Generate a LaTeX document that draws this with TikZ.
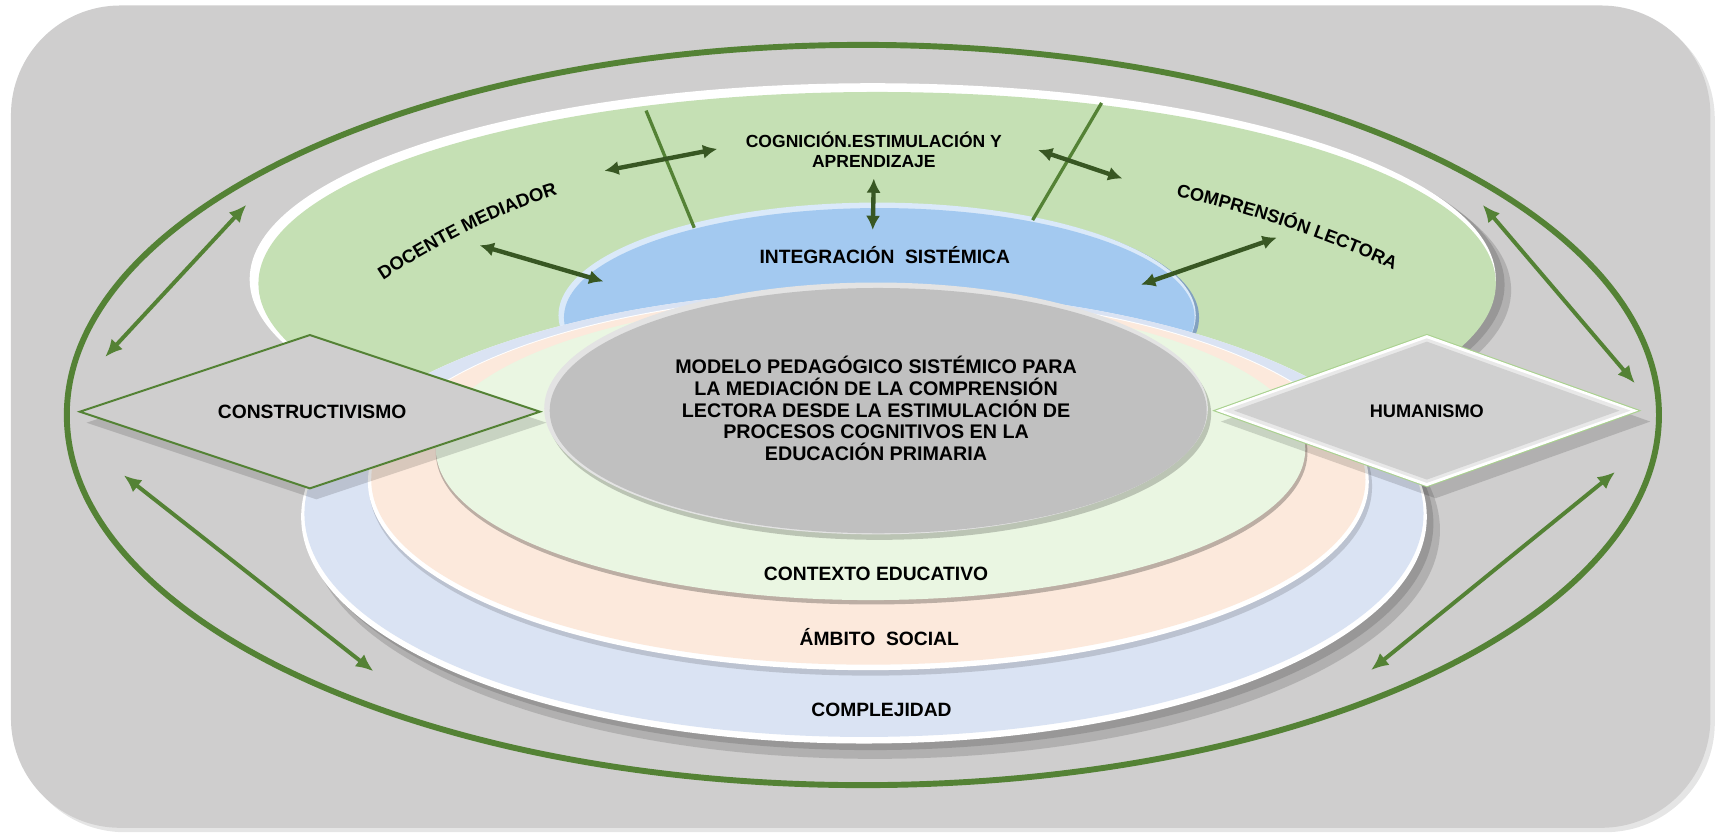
\documentclass[tikz,border=0pt]{standalone}
\usepackage{fontspec}
\setmainfont{Liberation Sans}
\usetikzlibrary{arrows.meta,decorations.text}
\definecolor{bgpanel}{RGB}{207,206,206}
\definecolor{ringgreen}{RGB}{84,130,53}
\definecolor{darkgreen}{RGB}{56,87,35}
\definecolor{leafgreen}{RGB}{197,224,180}
\definecolor{skyblue}{RGB}{163,201,240}
\definecolor{lavender}{RGB}{218,227,243}
\definecolor{peach}{RGB}{252,233,220}
\definecolor{mint}{RGB}{234,246,226}
\definecolor{coregray}{RGB}{192,192,192}
\definecolor{humgray}{RGB}{208,208,208}
\definecolor{lightedge}{RGB}{169,209,142}
\begin{document}
\begin{tikzpicture}[x=0.5pt,y=-0.5pt,
  lbl/.style={font=\bfseries\fontsize{8.8}{10}\selectfont, text=black, inner sep=0pt, align=center},
  outerarrow/.style={ringgreen, line width=1.8pt, {Latex[length=8pt,width=7pt]}-{Latex[length=8pt,width=7pt]}},
  innerarrow/.style={darkgreen, line width=2pt, {Latex[length=6.5pt,width=6.5pt]}-{Latex[length=6.5pt,width=6.5pt]}},
  divider/.style={ringgreen, line width=1.5pt},
  softshadow/.style={fill=black, opacity=0.14}
]
\useasboundingbox (0,0) rectangle (1568,763);
% panel
\fill[black, opacity=0.10, rounded corners=50pt] (14,9) rectangle (1566,760);
\fill[bgpanel, rounded corners=50pt] (10,5) rectangle (1562,756);
% outer ring
\draw[ringgreen, line width=2.7pt] (788,379) ellipse (727 and 338);
% green ellipse
\fill[softshadow] (811,265) ellipse (569 and 179);
\fill[softshadow] (805,260) ellipse (569 and 179);
\fill[white] (797,255) ellipse (569 and 179);
\fill[leafgreen] (801,259) ellipse (565 and 175);
% blue ellipse
\fill[skyblue!80!black] (803,290) ellipse (292 and 104);
\fill[white!60!skyblue] (801,288) ellipse (291 and 103);
\fill[skyblue] (803,290) ellipse (288 and 100);
% lavender
\fill[softshadow] (799,484) ellipse (516 and 209);
\fill[softshadow] (795,478) ellipse (514 and 207);
\fill[white] (789,472) ellipse (514 and 207);
\fill[lavender] (789,469) ellipse (511 and 204);
% peach
\fill[softshadow] (795,444) ellipse (458 and 173);
\fill[white] (793,440) ellipse (457 and 172);
\fill[peach] (793,438) ellipse (454 and 169);
% mint
\fill[black, opacity=0.25] (796,413) ellipse (398 and 139);
\fill[mint] (795,410) ellipse (397 and 138);
% core
\fill[black, opacity=0.2] (803,378) ellipse (303 and 115);
\fill[white!55!coregray] (800,373) ellipse (303 and 115);
\fill[coregray] (802,375) ellipse (300 and 112);
% constructivismo diamond
\fill[softshadow] (79,386) -- (289,316) -- (499,386) -- (289,456) -- cycle;
\filldraw[fill=bgpanel, draw=ringgreen, line width=0.9pt] (73,376) -- (283,306) -- (493,376) -- (283,446) -- cycle;
% humanismo diamond
\fill[softshadow] (1115,385) -- (1311,315) -- (1507,385) -- (1311,455) -- cycle;
\fill[lightedge] (1107,375) -- (1303,305) -- (1499,375) -- (1303,445) -- cycle;
\fill[white] (1110,375) -- (1303,306) -- (1496,375) -- (1303,444) -- cycle;
\fill[white!50!humgray] (1117,375) -- (1303,309) -- (1489,375) -- (1303,441) -- cycle;
\fill[humgray] (1127,375) -- (1303,312) -- (1479,375) -- (1303,438) -- cycle;
% divider lines
\coordinate (l1a) at (590,101); \coordinate (l1b) at (634,208);
\coordinate (l2a) at (1006,94); \coordinate (l2b) at (943,201);
\draw[divider] (l1a) -- (l1b);
\draw[divider] (l2a) -- (l2b);
% outer arrows
\coordinate (oa1) at (96,326);  \coordinate (ob1) at (225,187);
\coordinate (oa2) at (113,434); \coordinate (ob2) at (341,613);
\coordinate (oa3) at (1354,187); \coordinate (ob3) at (1493,350);
\coordinate (oa4) at (1475,431); \coordinate (ob4) at (1252,612);
\draw[outerarrow] (oa1) -- (ob1);
\draw[outerarrow] (oa2) -- (ob2);
\draw[outerarrow] (oa3) -- (ob3);
\draw[outerarrow] (oa4) -- (ob4);
% inner arrows
\coordinate (ia1) at (552,156);  \coordinate (ib1) at (655,136);
\coordinate (ia2) at (948,137);  \coordinate (ib2) at (1025,163);
\coordinate (ia3) at (798,163);  \coordinate (ib3) at (797,210);
\coordinate (ia4) at (438,224);  \coordinate (ib4) at (551,257);
\coordinate (ia5) at (1166,217); \coordinate (ib5) at (1042,260);
\draw[innerarrow] (ia1) -- (ib1);
\draw[innerarrow] (ia2) -- (ib2);
\draw[innerarrow] (ia3) -- (ib3);
\draw[innerarrow] (ia4) -- (ib4);
\draw[innerarrow] (ia5) -- (ib5);
% arched labels
\coordinate (dm1) at (345,259); \coordinate (dm2) at (515,176);
\path[decorate, decoration={text along path, text align=center,
  text={|\bfseries\fontsize{8.4}{10}\selectfont|DOCENTE MEDIADOR}}]
  (dm1) .. controls (390,229) and (450,195) .. (dm2);
\coordinate (cl1) at (1064,178); \coordinate (cl2) at (1282,251);
\path[decorate, decoration={text along path, text align=center,
  text={|\bfseries\fontsize{8.3}{10}\selectfont|COMPRENSIÓN LECTORA}}]
  (cl1) .. controls (1130,190) and (1220,220) .. (cl2);
% texts
\node[lbl, font=\bfseries\fontsize{8}{9}\selectfont] (cog) at (798,137) {COGNICIÓN.ESTIMULACIÓN Y\\APRENDIZAJE};
\node[lbl] (integ) at (808,233) {INTEGRACIÓN\ \ SISTÉMICA};
\node[lbl, font=\bfseries\fontsize{9}{9.9}\selectfont] (core) at (800,373) {MODELO PEDAGÓGICO SISTÉMICO PARA\\LA MEDIACIÓN DE LA COMPRENSIÓN\\LECTORA DESDE LA ESTIMULACIÓN DE\\PROCESOS COGNITIVOS EN LA\\EDUCACIÓN PRIMARIA};
\node[lbl] (contexto) at (800,524) {CONTEXTO EDUCATIVO};
\node[lbl] (ambito) at (803,582) {ÁMBITO\ \ SOCIAL};
\node[lbl] (complej) at (805,648) {COMPLEJIDAD};
\node[lbl] (constr) at (285,376) {CONSTRUCTIVISMO};
\node[lbl, font=\bfseries\fontsize{8.3}{10}\selectfont] (human) at (1303,376) {HUMANISMO};
\end{tikzpicture}
\end{document}
